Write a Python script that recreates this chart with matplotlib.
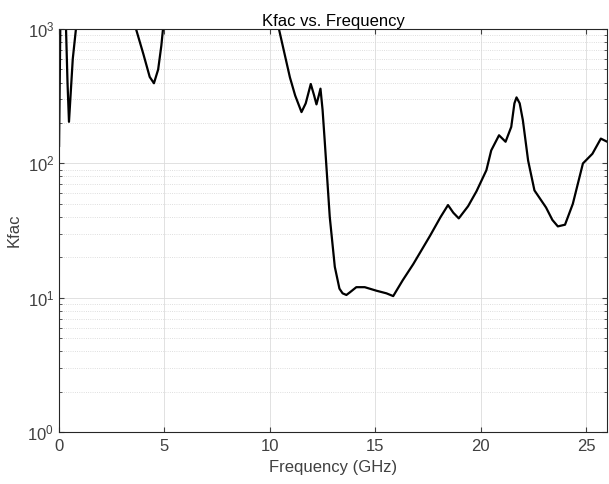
import matplotlib
matplotlib.use("Agg")
from matplotlib import pyplot as plt
from matplotlib.ticker import LogLocator, NullFormatter

# frequency (GHz) and Kfac
freq = [0.0, 0.06, 0.2, 0.33, 0.40, 0.47, 0.55, 0.65, 0.8, 1.5, 3.0, 3.65, 4.0, 4.3, 4.5,
        4.7, 4.85, 4.93, 6.0, 9.5, 10.43, 10.7, 10.95, 11.2, 11.5, 11.7, 11.94, 12.1,
        12.21, 12.32, 12.4, 12.5, 12.6, 12.84, 13.08, 13.3, 13.45, 13.63, 13.8, 14.1,
        14.5, 15.05, 15.53, 15.85, 16.3, 16.8, 17.6, 18.1, 18.45, 18.7, 18.96, 19.4,
        19.8, 20.27, 20.5, 20.87, 21.18, 21.45, 21.6, 21.7, 21.85, 22.0, 22.25, 22.55,
        23.1, 23.4, 23.66, 24.0, 24.37, 24.85, 25.3, 25.7, 26.0]
kfac = [135, 1100, 2000, 1000, 400, 204, 330, 600, 1000, 3000, 3000, 1000, 650, 440, 395,
        500, 750, 1000, 3000, 3000, 1000, 650, 437, 320, 241, 280, 390, 320,
        275, 320, 360, 250, 148, 40, 17, 11.7, 10.8, 10.5, 11.0, 12.0,
        12.0, 11.3, 10.8, 10.3, 13.5, 17.8, 29, 40, 49, 43, 39, 48,
        62, 89, 125, 162, 145, 187, 280, 310, 280, 210, 105, 63,
        47, 38, 34, 35, 50, 100, 118, 153, 145]

plt.rcParams['font.family'] = ['Liberation Sans', 'DejaVu Sans']

fig = plt.figure(figsize=(6.09, 4.84), dpi=100)
ax = fig.add_axes([0.097, 0.107, 0.9, 0.833])

ax.semilogy(freq, kfac, color='black', linewidth=1.6)
ax.set_xlim(0, 26)
ax.set_ylim(1, 1000)
ax.set_xticks([0, 5, 10, 15, 20, 25])
ax.yaxis.set_minor_locator(LogLocator(base=10, subs=range(2, 10)))
ax.yaxis.set_minor_formatter(NullFormatter())

ax.grid(True, which='major', color='#dcdcdc', linewidth=0.6)
ax.grid(True, which='minor', axis='y', color='#d4d4d4', linewidth=0.6, linestyle=':')
ax.tick_params(which='both', direction='in', labelsize=12, colors='#404040')
ax.tick_params(axis='x', pad=5)
ax.tick_params(which='both', top=True, right=True)
for s in ax.spines.values():
    s.set_color('#262626')
    s.set_linewidth(0.8)

ax.set_title("Kfac vs. Frequency", fontsize=12, pad=2)
ax.set_xlabel("Frequency (GHz)", fontsize=12, color='#404040', labelpad=4)
ax.set_ylabel("Kfac", fontsize=12, color='#404040', labelpad=4)

fig.savefig("out.png", dpi=100)
